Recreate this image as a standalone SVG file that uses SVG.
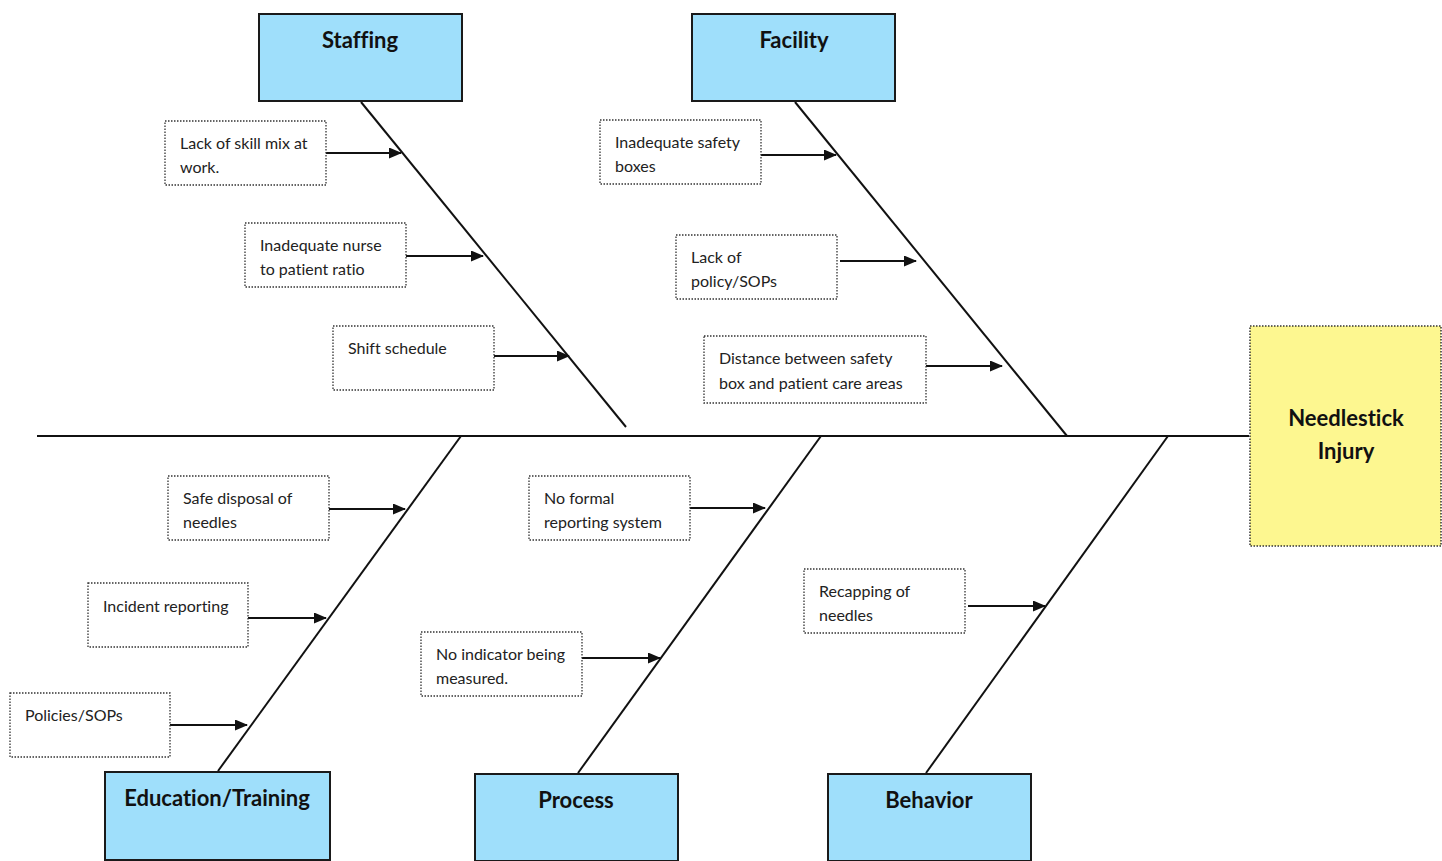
<svg xmlns="http://www.w3.org/2000/svg" width="1442" height="861" viewBox="0 0 1442 861">
<style>
.hdr{fill:#9fdffb;stroke:#1a1a1a;stroke-width:2}
.ht{font-family:Lato,"Open Sans",sans-serif;font-weight:bold;font-size:22px;fill:#111;text-anchor:middle;font-variant-ligatures:none;font-feature-settings:"liga" 0,"clig" 0,"dlig" 0}
.cb{fill:#fff;stroke:#333;stroke-width:1.3;stroke-dasharray:1.5 1.5}
.ct{font-family:Lato,"Open Sans",sans-serif;font-size:16px;fill:#222;font-variant-ligatures:none;font-feature-settings:"liga" 0,"clig" 0}
.bone{stroke:#111;stroke-width:2;fill:none}
.arr{stroke:#111;stroke-width:2;fill:none;marker-end:url(#ah)}
</style>
<defs>
<marker id="ah" markerWidth="13" markerHeight="11" refX="12" refY="5.5" orient="auto" markerUnits="userSpaceOnUse">
<path d="M0,0 L13,5.5 L0,11 z" fill="#111"/>
</marker>
</defs>
<rect width="1442" height="861" fill="#fff"/>
<g id="connectors">
<line class="bone" x1="37" y1="436" x2="1249" y2="436"/>
<line class="bone" x1="361" y1="102" x2="626" y2="427"/>
<line class="bone" x1="795" y1="102" x2="1067" y2="436"/>
<line class="bone" x1="461" y1="436" x2="218" y2="771"/>
<line class="bone" x1="821" y1="436" x2="578" y2="773"/>
<line class="bone" x1="1168" y1="436" x2="926" y2="773"/>
<line class="arr" x1="326" y1="153" x2="401" y2="153"/>
<line class="arr" x1="406" y1="256" x2="483" y2="256"/>
<line class="arr" x1="494" y1="356" x2="569" y2="356"/>
<line class="arr" x1="761" y1="155" x2="836" y2="155"/>
<line class="arr" x1="840" y1="261" x2="916" y2="261"/>
<line class="arr" x1="926" y1="366" x2="1002" y2="366"/>
<line class="arr" x1="329" y1="509" x2="405" y2="509"/>
<line class="arr" x1="248" y1="618" x2="326" y2="618"/>
<line class="arr" x1="170" y1="725" x2="247" y2="725"/>
<line class="arr" x1="690" y1="508" x2="765" y2="508"/>
<line class="arr" x1="582" y1="658" x2="660" y2="658"/>
<line class="arr" x1="968" y1="606" x2="1045" y2="606"/>
</g>
<g id="staffing"><rect class="hdr" x="259" y="14" width="203" height="87"/><text class="ht" x="360" y="48">Staffing</text></g>
<g id="facility"><rect class="hdr" x="692" y="14" width="203" height="87"/><text class="ht" x="794" y="48">Facility</text></g>
<g id="education"><rect class="hdr" x="105" y="772" width="225" height="88"/><text class="ht" x="217" y="806">Education/Training</text></g>
<g id="process"><rect class="hdr" x="475" y="774" width="203" height="87"/><text class="ht" x="576" y="808">Process</text></g>
<g id="behavior"><rect class="hdr" x="828" y="774" width="203" height="87"/><text class="ht" x="929" y="808">Behavior</text></g>
<g id="needlestick"><rect x="1250" y="326" width="191" height="220" fill="#fdf790" stroke="#333" stroke-width="1.5" stroke-dasharray="1.5 1.5"/><text class="ht" x="1346" y="426">Needlestick</text><text class="ht" x="1346" y="459">Injury</text></g>
<g id="c1"><rect class="cb" x="165" y="121" width="161" height="64"/><text class="ct" x="180" y="149">Lack of skill mix at</text><text class="ct" x="180" y="173">work.</text></g>
<g id="c2"><rect class="cb" x="245" y="223" width="161" height="64"/><text class="ct" x="260" y="251">Inadequate nurse</text><text class="ct" x="260" y="275">to patient ratio</text></g>
<g id="c3"><rect class="cb" x="333" y="326" width="161" height="64"/><text class="ct" x="348" y="354">Shift schedule</text></g>
<g id="c4"><rect class="cb" x="600" y="120" width="161" height="64"/><text class="ct" x="615" y="148">Inadequate safety</text><text class="ct" x="615" y="172">boxes</text></g>
<g id="c5"><rect class="cb" x="676" y="235" width="161" height="64"/><text class="ct" x="691" y="263">Lack of</text><text class="ct" x="691" y="287">policy/SOPs</text></g>
<g id="c6"><rect class="cb" x="704" y="336" width="222" height="67"/><text class="ct" x="719" y="364">Distance between safety</text><text class="ct" x="719" y="389">box and patient care areas</text></g>
<g id="c7"><rect class="cb" x="168" y="476" width="161" height="64"/><text class="ct" x="183" y="504">Safe disposal of</text><text class="ct" x="183" y="528">needles</text></g>
<g id="c8"><rect class="cb" x="88" y="583" width="160" height="64"/><text class="ct" x="103" y="612">Incident reporting</text></g>
<g id="c9"><rect class="cb" x="10" y="693" width="160" height="64"/><text class="ct" x="25" y="721">Policies/SOPs</text></g>
<g id="c10"><rect class="cb" x="529" y="476" width="161" height="64"/><text class="ct" x="544" y="504">No formal</text><text class="ct" x="544" y="528">reporting system</text></g>
<g id="c11"><rect class="cb" x="421" y="632" width="161" height="64"/><text class="ct" x="436" y="660">No indicator being</text><text class="ct" x="436" y="684">measured.</text></g>
<g id="c12"><rect class="cb" x="804" y="569" width="161" height="64"/><text class="ct" x="819" y="597">Recapping of</text><text class="ct" x="819" y="621">needles</text></g>
</svg>
